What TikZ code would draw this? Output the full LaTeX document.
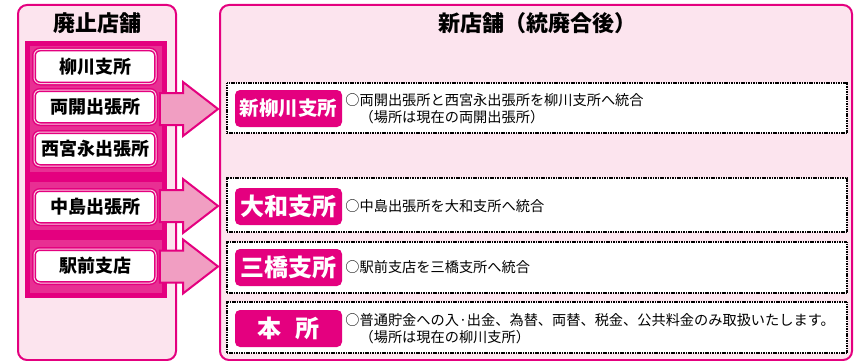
\documentclass[tikz,border=0pt]{standalone}
\usepackage{fontspec}
\setmainfont{Noto Sans CJK JP}
\usepackage{tikz}
\usetikzlibrary{positioning,calc}
\definecolor{mag}{HTML}{E4007F}
\definecolor{panelpink}{HTML}{FCE4EE}
\definecolor{arrowpink}{HTML}{F19EC2}

\begin{document}
\begin{tikzpicture}[x=1pt,y=-1pt,
	panel/.style={rectangle,rounded corners=9pt,draw=mag,line width=2pt,fill=panelpink,inner sep=0pt},
	group_box/.style={rectangle,draw=mag,line width=4.5pt,fill=mag!70!arrowpink,inner sep=0pt,minimum width=137pt},
	old_node/.style={rectangle,rounded corners=6pt,draw=mag,line width=1.5pt,double=arrowpink!50,double distance=1pt,fill=white,inner sep=0pt,minimum width=122pt,minimum height=34pt,font=\fontsize{18}{20}\selectfont\bfseries},
	dot_box/.style={rectangle,draw=black,line width=1.9pt,dash pattern=on 1.1pt off 0.6pt,fill=white,inner sep=0pt,minimum width=620pt},
	new_label/.style={rectangle,rounded corners=5pt,fill=mag,text=white,inner sep=0pt,minimum width=107pt,minimum height=37pt,font=\fontsize{24}{26}\selectfont\bfseries},
	desc/.style={align=left,inner sep=0pt,font=\fontsize{14.2}{17}\selectfont},
	title/.style={font=\fontsize{22}{24}\selectfont\bfseries},
	big_arrow/.style={draw=mag,line width=2pt,fill=arrowpink}]

	\useasboundingbox (0,0) rectangle (854,361);

	\node[panel,minimum width=158pt,minimum height=355pt] (oldpanel) at (97,182.5) {};
	\node[panel,minimum width=632pt,minimum height=355pt] (newpanel) at (536,182.5) {};
	\node[title] (oldtitle) at (97,23) {廃止店舗};
	\node[title] (newtitle) at (537,23) {新店舗（統廃合後）};

	\node[group_box,minimum height=131pt] (g1) at (96,109) {};
	\node[group_box,minimum height=53pt] (g2) at (96,206) {};
	\node[group_box,minimum height=58pt] (g3) at (96,266.5) {};

	\node[old_node] (yanagawa) at (95,66.5) {柳川支所};
	\node[old_node] (ryokai) at (95,107) {両開出張所};
	\node[old_node] (nishimiya) at (95,149) {西宮永出張所};
	\node[old_node] (nakajima) at (95,207) {中島出張所};
	\node[old_node] (ekimae) at (95,266) {駅前支店};

	\node[dot_box,minimum height=50pt] (b1) at (537,108) {};
	\node[dot_box,minimum height=54pt] (b2) at (537,205) {};
	\node[dot_box,minimum height=51pt] (b3) at (537,267.5) {};
	\node[dot_box,minimum height=51pt] (b4) at (537,327.5) {};

	\node[new_label,font=\fontsize{19.5}{22}\selectfont\bfseries] (newyanagawa) at (288.5,108.5) {新柳川支所};
	\node[new_label] (yamato) at (288.5,206.5) {大和支所};
	\node[new_label] (mitsuhashi) at (288.5,267.5) {三橋支所};
	\node[new_label] (honsho) at (288.5,328.5) {本\hspace{14pt}所};

	\node[desc,right=3pt of newyanagawa] (d1) {○両開出張所と西宮永出張所を柳川支所へ統合\\　（場所は現在の両開出張所）};
	\node[desc,right=3pt of yamato] (d2) {○中島出張所を大和支所へ統合};
	\node[desc,right=3pt of mitsuhashi] (d3) {○駅前支店を三橋支所へ統合};
	\node[desc,right=3pt of honsho] (d4) {○普通貯金への入·出金、為替、両替、税金、公共料金のみ取扱いたします。\\　（場所は現在の柳川支所）};

	\foreach \g in {g1,g2,g3}
		\draw[big_arrow] ($(\g.east)+(-7,-16)$) -- ($(\g.east -| newpanel.west)+(-36,-16)$)
			-- ($(\g.east -| newpanel.west)+(-36,-27)$) -- ($(\g.east -| newpanel.west)+(-1,0)$)
			-- ($(\g.east -| newpanel.west)+(-36,27)$) -- ($(\g.east -| newpanel.west)+(-36,16)$)
			-- ($(\g.east)+(-7,16)$) -- cycle;
\end{tikzpicture}
\end{document}
